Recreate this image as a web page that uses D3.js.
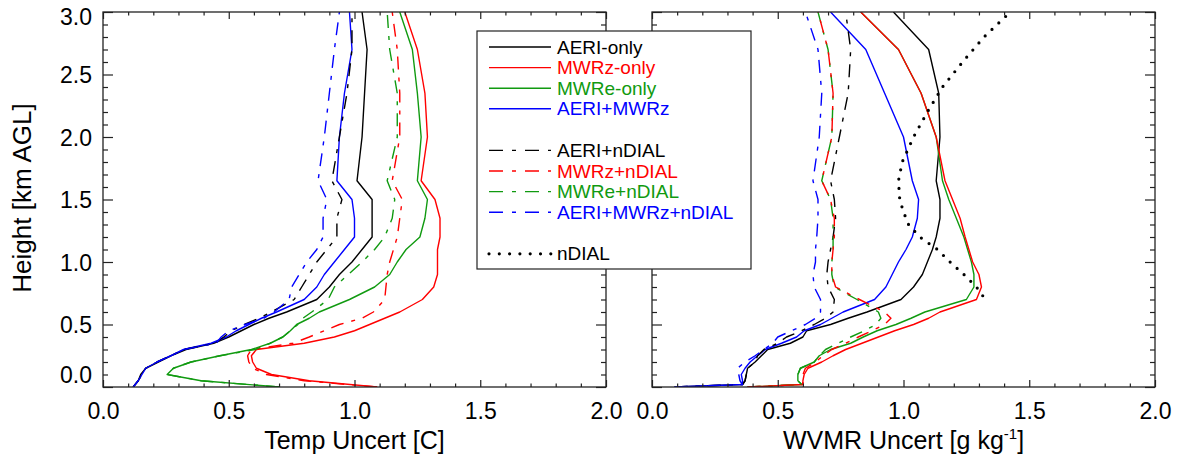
<!DOCTYPE html>
<html>
<head>
<meta charset="utf-8">
<script src="https://cdn.jsdelivr.net/npm/d3@7"></script>
<style>
  body { margin: 0; background: #fff; }
  svg { display: block; font-family: "Liberation Sans", Arial, Helvetica, sans-serif; }
</style>
</head>
<body>
<script>
// heights (km AGL) at which the uncertainty profiles are read
var heights = [0, 0.05, 0.1, 0.15, 0.2, 0.25, 0.3, 0.35, 0.4, 0.45, 0.5, 0.55, 0.6, 0.7, 0.8, 0.9, 1.0, 1.1, 1.2, 1.35, 1.5, 1.65, 2.0, 2.35, 2.7, 3.0];
var heightsW = [0, 0.02, 0.05, 0.1, 0.15, 0.2, 0.25, 0.3, 0.35, 0.4, 0.45, 0.5, 0.55, 0.6, 0.7, 0.8, 0.9, 1.0, 1.1, 1.2, 1.35, 1.5, 1.65, 2.0, 2.35, 2.7, 3.0];
var heightsDial = [0.73, 0.8, 0.9, 1.0, 1.1, 1.2, 1.3, 1.4, 1.5, 1.65, 1.8, 2.0, 2.2, 2.4, 2.6, 2.8, 3.0];

// temperature uncertainty [C]
var tAeriOnly  = [.12, .14, .15, .17, .22, .27, .33, .44, .50, .55, .60, .66, .73, .85, .90, .94, .99, 1.03, 1.07, 1.07, 1.07, 1.01, 1.03, 1.04, 1.05, 1.03];
var tMwrzOnly  = [1.09, .82, .67, .61, .595, .59, .61, .80, .92, 1.00, 1.06, 1.12, 1.18, 1.27, 1.315, 1.33, 1.33, 1.33, 1.34, 1.34, 1.32, 1.265, 1.29, 1.28, 1.25, 1.20];
var tMwreOnly  = [.70, .39, .255, .28, .35, .465, .59, .665, .715, .745, .77, .82, .86, .98, 1.08, 1.14, 1.17, 1.205, 1.26, 1.28, 1.29, 1.25, 1.265, 1.25, 1.23, 1.18];
var tAeriMwrz  = [.12, .14, .155, .17, .215, .27, .32, .43, .49, .53, .58, .63, .69, .80, .85, .88, .92, .96, 1.00, 1.00, .99, .93, .94, .96, .99, .98];
var tAeriDial  = [.12, .14, .155, .17, .215, .27, .32, .445, .48, .51, .56, .62, .67, .76, .79, .82, .85, .89, .93, .93, .95, .91, .94, .97, .99, .99];
var tMwrzDial  = [1.09, .80, .65, .595, .58, .575, .59, .755, .82, .88, .94, 1.03, 1.075, 1.12, 1.125, 1.13, 1.14, 1.155, 1.17, 1.18, 1.19, 1.15, 1.18, 1.18, 1.17, 1.15];
var tMwreDial  = [.70, .39, .255, .28, .35, .465, .605, .665, .715, .745, .775, .795, .83, .895, .92, .975, 1.03, 1.08, 1.12, 1.15, 1.16, 1.13, 1.17, 1.17, 1.14, 1.13];
var tAllDial   = [.12, .14, .155, .17, .215, .27, .32, .45, .47, .50, .565, .64, .68, .74, .75, .78, .81, .85, .875, .875, .89, .855, .88, .90, .92, .94];

// water vapour mixing ratio uncertainty [g/kg]
var wAeriOnly  = [.09, .36, .37, .375, .38, .41, .435, .46, .55, .60, .615, .71, .78, .855, .99, 1.04, 1.075, 1.095, 1.115, 1.13, 1.145, 1.145, 1.13, 1.145, 1.14, 1.10, .96];
var wMwrzOnly  = [.38, .60, .60, .605, .62, .675, .72, .77, .835, .90, .965, 1.04, 1.10, 1.145, 1.29, 1.31, 1.30, 1.275, 1.26, 1.245, 1.225, 1.195, 1.165, 1.13, 1.07, .98, .83];
var wMwreOnly  = [.38, .595, .58, .58, .59, .645, .665, .71, .79, .84, .895, .97, 1.03, 1.085, 1.25, 1.28, 1.28, 1.27, 1.255, 1.24, 1.21, 1.18, 1.155, 1.13, 1.07, .98, .83];
var wAeriMwrz  = [.09, .36, .36, .355, .37, .39, .42, .45, .515, .575, .605, .67, .715, .76, .885, .93, .955, .98, 1.01, 1.035, 1.055, 1.06, 1.035, 1.00, .925, .85, .71];
var wAeriDial  = [.09, .36, .37, .375, .38, .41, .42, .445, .50, .535, .595, .645, .69, .72, .725, .70, .695, .70, .71, .72, .73, .725, .71, .745, .78, .79, .77];
var wMwrzDial  = [.38, .60, .60, .60, .61, .65, .68, .715, .77, .82, .875, .925, .95, .925, .825, .73, .715, .715, .72, .725, .725, .71, .675, .715, .72, .70, .66];
var wMwreDial  = [.38, .595, .58, .58, .59, .645, .665, .69, .74, .79, .845, .89, .91, .90, .815, .725, .715, .715, .72, .72, .72, .71, .675, .715, .72, .70, .66];
var wAllDial   = [.09, .36, .35, .345, .34, .37, .41, .445, .48, .50, .555, .61, .65, .67, .67, .645, .64, .65, .65, .655, .66, .66, .64, .665, .675, .66, .61];
var wDialOnly  = [1.315, 1.29, 1.24, 1.185, 1.135, 1.065, 1.02, 1.00, .985, .98, .995, 1.04, 1.095, 1.155, 1.235, 1.32, 1.425];

var xTicks = [0, 0.5, 1.0, 1.5, 2.0];
var yTicks = [0, 0.5, 1.0, 1.5, 2.0, 2.5, 3.0];

var BLACK = "#000", RED = "#ff0000", GREEN = "#109a10", BLUE = "#0000ff";
var DASHDOT = "13,8,4,8", DOTTED = "0,9.4";

var legendItems = [
    {name: "AERI-only", color: BLACK, dash: null},
    {name: "MWRz-only", color: RED, dash: null},
    {name: "MWRe-only", color: GREEN, dash: null},
    {name: "AERI+MWRz", color: BLUE, dash: null},
    null,
    {name: "AERI+nDIAL", color: BLACK, dash: DASHDOT},
    {name: "MWRz+nDIAL", color: RED, dash: DASHDOT},
    {name: "MWRe+nDIAL", color: GREEN, dash: DASHDOT},
    {name: "AERI+MWRz+nDIAL", color: BLUE, dash: DASHDOT},
    null,
    {name: "nDIAL", color: BLACK, dash: DOTTED, dotted: true}
];

var W = 1187, H = 464;
var svg = d3.select("body").append("svg").attr("width", W).attr("height", H);

var y = d3.scaleLinear().domain([0, 3]).range([387, 12]);

function panel(x0, x1, series, title, showYLabels, id) {
    var x = d3.scaleLinear().domain([0, 2]).range([x0, x1]);
    var g = svg.append("g");

    g.append("clipPath").attr("id", id).append("rect")
        .attr("x", x0).attr("y", 12).attr("width", x1 - x0).attr("height", 375);

    var line = d3.line().x(function (d) { return x(d[1]); }).y(function (d) { return y(d[0]); });
    var lines = g.append("g").attr("clip-path", "url(#" + id + ")");
    series.forEach(function (s) {
        lines.append("path")
            .datum(s.h.map(function (h, i) { return [h, s.v[i]]; }))
            .attr("d", line)
            .attr("fill", "none")
            .attr("stroke", s.color)
            .attr("stroke-width", s.dotted ? 3.2 : 1.4)
            .attr("stroke-linecap", s.dotted ? "round" : "butt")
            .attr("stroke-linejoin", "round")
            .attr("stroke-dasharray", s.dash);
    });

    var minorX = d3.range(0, 2.001, 0.1).filter(function (v) { return Math.abs(v * 2 - Math.round(v * 2)) > 1e-6; });
    var minorY = d3.range(0, 3.001, 0.1).filter(function (v) { return Math.abs(v * 2 - Math.round(v * 2)) > 1e-6; });

    g.append("g").attr("transform", "translate(0,387)")
        .call(d3.axisBottom(x).tickValues(xTicks).tickSize(-7).tickPadding(16).tickFormat(d3.format(".1f")));
    g.append("g").attr("transform", "translate(0,387)")
        .call(d3.axisBottom(x).tickValues(minorX).tickSize(-3.5).tickFormat(""));
    g.append("g").attr("transform", "translate(0,12)")
        .call(d3.axisTop(x).tickValues(xTicks).tickSize(-7).tickFormat(""));
    g.append("g").attr("transform", "translate(0,12)")
        .call(d3.axisTop(x).tickValues(minorX).tickSize(-3.5).tickFormat(""));

    var left = g.append("g").attr("transform", "translate(" + x0 + ",0)")
        .call(d3.axisLeft(y).tickValues(yTicks).tickSize(-10).tickPadding(11)
            .tickFormat(showYLabels ? d3.format(".1f") : ""));
    g.append("g").attr("transform", "translate(" + x0 + ",0)")
        .call(d3.axisLeft(y).tickValues(minorY).tickSize(-5).tickFormat(""));
    g.append("g").attr("transform", "translate(" + x1 + ",0)")
        .call(d3.axisRight(y).tickValues(yTicks).tickSize(-10).tickFormat(""));
    g.append("g").attr("transform", "translate(" + x1 + ",0)")
        .call(d3.axisRight(y).tickValues(minorY).tickSize(-5).tickFormat(""));

    g.selectAll(".domain").remove();
    g.selectAll(".tick line").attr("stroke", "#222").attr("stroke-width", 1.2);
    g.selectAll(".tick text").attr("font-size", 23).attr("fill", "#000")
        .attr("font-family", "'Liberation Sans', Arial, sans-serif");
    if (showYLabels) {
        left.selectAll(".tick text").attr("dy", function (d) {
            return d === 0 ? "-0.2em" : (d === 3 ? "0.55em" : "0.35em");
        });
    }

    g.append("rect").attr("x", x0).attr("y", 12).attr("width", x1 - x0).attr("height", 375)
        .attr("fill", "none").attr("stroke", "#222").attr("stroke-width", 1.3);

    var t = g.append("text").attr("x", (x0 + x1) / 2).attr("y", 449)
        .attr("text-anchor", "middle").attr("font-size", 25);
    title(t);
}

panel(103, 606, [
    {h: heights, v: tAeriOnly, color: BLACK},
    {h: heights, v: tMwrzOnly, color: RED},
    {h: heights, v: tMwreOnly, color: GREEN},
    {h: heights, v: tAeriMwrz, color: BLUE},
    {h: heights, v: tAeriDial, color: BLACK, dash: DASHDOT},
    {h: heights, v: tMwrzDial, color: RED, dash: DASHDOT},
    {h: heights, v: tMwreDial, color: GREEN, dash: DASHDOT},
    {h: heights, v: tAllDial, color: BLUE, dash: DASHDOT}
], function (t) { t.text("Temp Uncert [C]"); }, true, "clipT");

panel(652, 1155, [
    {h: heightsW, v: wAeriOnly, color: BLACK},
    {h: heightsW, v: wMwreOnly, color: GREEN},
    {h: heightsW, v: wMwrzOnly, color: RED},
    {h: heightsW, v: wAeriMwrz, color: BLUE},
    {h: heightsW, v: wAeriDial, color: BLACK, dash: DASHDOT},
    {h: heightsW, v: wMwreDial, color: GREEN, dash: DASHDOT},
    {h: heightsW, v: wMwrzDial, color: RED, dash: DASHDOT},
    {h: heightsW, v: wAllDial, color: BLUE, dash: DASHDOT},
    {h: heightsDial, v: wDialOnly, color: BLACK, dash: DOTTED, dotted: true}
], function (t) {
    t.append("tspan").text("WVMR Uncert [g kg");
    t.append("tspan").attr("dy", -10).attr("font-size", 15).text("-1");
    t.append("tspan").attr("dy", 10).text("]");
}, false, "clipW");

// y axis title
svg.append("text")
    .attr("transform", "translate(31,198) rotate(-90)")
    .attr("text-anchor", "middle").attr("font-size", 26)
    .text("Height [km AGL]");

// legend
var lg = svg.append("g");
lg.append("rect").attr("x", 477).attr("y", 31).attr("width", 274).attr("height", 238)
    .attr("fill", "#fff").attr("stroke", "#222").attr("stroke-width", 1.2);
var rowY = 47;
legendItems.forEach(function (it) {
    if (!it) { rowY += 21; return; }
    lg.append("line").attr("x1", 489).attr("x2", 551).attr("y1", rowY).attr("y2", rowY)
        .attr("stroke", it.color)
        .attr("stroke-width", it.dotted ? 3.2 : 1.4)
        .attr("stroke-linecap", it.dotted ? "round" : "butt")
        .attr("stroke-dasharray", it.dotted ? "0,10.3" : "14,9,4,9");
    if (!it.dash) {
        lg.select("line:last-of-type").attr("stroke-dasharray", null);
    }
    lg.append("text").attr("x", 557).attr("y", rowY).attr("dy", "0.35em")
        .attr("font-size", 19).attr("fill", it.color).text(it.name);
    rowY += 20.6;
});
</script>
</body>
</html>
